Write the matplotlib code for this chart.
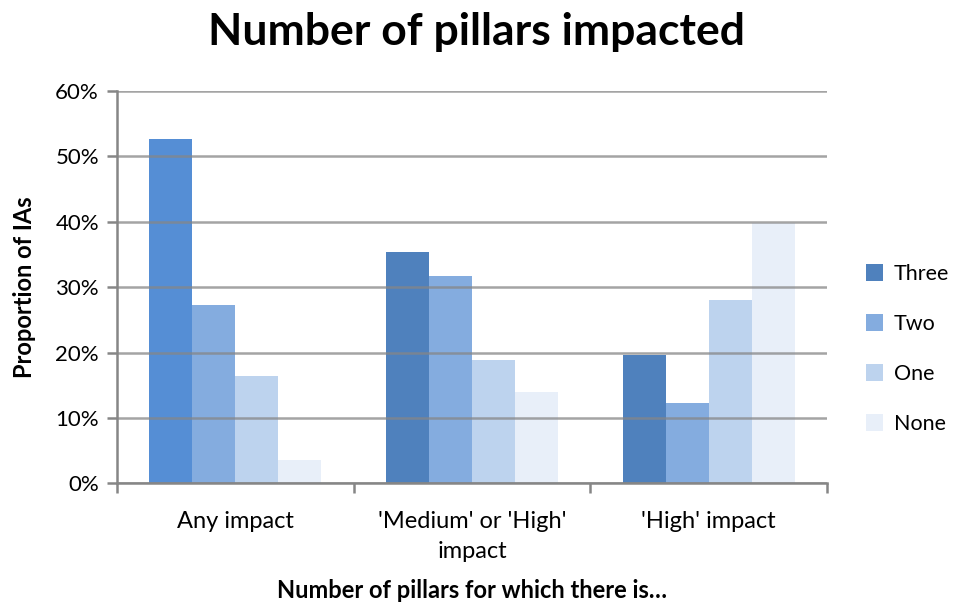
import matplotlib
matplotlib.use("Agg")
import matplotlib.pyplot as plt
import numpy as np
from matplotlib.patches import Patch

categories = ["Any impact", "'Medium' or 'High'\nimpact", "'High' impact"]
series = ["Three", "Two", "One", "None"]
three = [52.6, 35.3, 19.6]
two = [27.3, 31.7, 12.3]
one = [16.4, 18.9, 28.0]
none = [3.6, 14.0, 39.8]
y_ticks = [0, 10, 20, 30, 40, 50, 60]

colors = ["#4F81BD", "#84ACDF", "#BDD3EE", "#E8EFF9"]
first_bar_color = "#558ED5"

plt.rcParams["font.family"] = ["Lato", "DejaVu Sans"]

fig = plt.figure(figsize=(9.56, 6.05), dpi=100)
ax = fig.add_axes([117 / 956, 1 - 483.3 / 605, 710 / 956, (483.3 - 91) / 605])

x = np.arange(len(categories))
w = 0.182
values = [three, two, one, none]
for k, (vals, col) in enumerate(zip(values, colors)):
    bars = ax.bar(x + (k - 1.5) * w, vals, width=w, color=col, zorder=2)
    if k == 0:
        bars[0].set_facecolor(first_bar_color)

ax.set_xlim(-0.5, 2.5)
ax.set_ylim(0, 60)
ax.set_yticks(y_ticks)
ax.set_yticklabels([f"{v}%" for v in y_ticks], fontsize=16)
ax.yaxis.grid(True, color="#868686", linewidth=1.8, alpha=0.75, zorder=3)
ax.set_axisbelow(False)

ax.set_xticks(x)
ax.set_xticklabels(categories, fontsize=17, linespacing=1.55)
ax.set_xticks([-0.5, 0.5, 1.5, 2.5], minor=True)
ax.tick_params(axis="x", which="major", length=0, pad=20)
ax.tick_params(axis="x", which="minor", length=7, width=1.8, color="#868686")
ax.tick_params(axis="y", length=7, width=1.8, color="#868686", pad=6)

for s in ["top", "right"]:
    ax.spines[s].set_visible(False)
for s in ["left", "bottom"]:
    ax.spines[s].set_color("#868686")
    ax.spines[s].set_linewidth(1.8)

ax.set_ylabel("Proportion of IAs", fontsize=17, fontweight="bold", labelpad=14)
ax.set_xlabel("Number of pillars for which there is\u2026", fontsize=17,
              fontweight="bold", labelpad=12)

fig.text(476 / 956, 1 - 32 / 605, "Number of pillars impacted", fontsize=32,
         fontweight="bold", ha="center", va="center")

handles = [Patch(facecolor=c, label=s) for c, s in zip(colors, series)]
fig.legend(handles=handles, loc="center left", bbox_to_anchor=(866 / 956, 1 - 349 / 605),
           frameon=False, fontsize=15.5, handlelength=0.8, handleheight=0.8,
           handletextpad=0.5, labelspacing=1.4, borderpad=0, borderaxespad=0)

fig.savefig("out.png", dpi=100)
